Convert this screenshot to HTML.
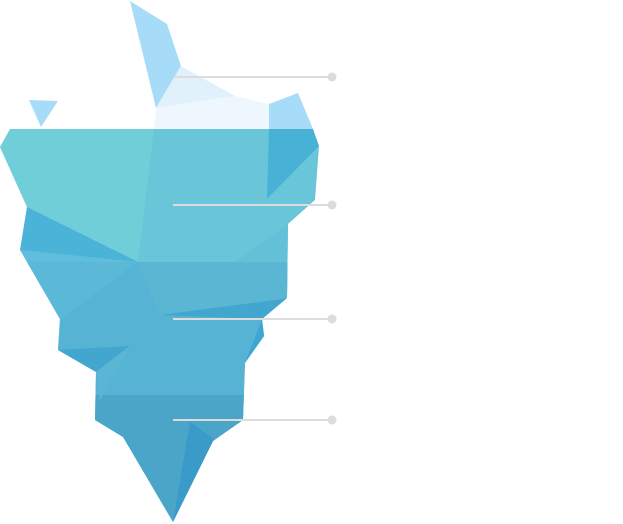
<!DOCTYPE html><html><head><style>body{margin:0;background:#fff}svg{display:block}</style></head><body>
<svg width="623" height="524" viewBox="0 0 623 524" xmlns="http://www.w3.org/2000/svg">
<polygon points="130,1 167,24 181,66 156,108" fill="#a6dcf7"/>
<polygon points="181,66 235,96 156,108" fill="#e1f1fc"/>
<polygon points="156,108 235,96 269,104 269,129 154,129" fill="#eef7fd"/>
<polygon points="269,104 298,93 313,129 269,129" fill="#a6dcf7"/>
<polygon points="29,100 58,101 41,127" fill="#a6dcf7"/>
<polygon points="10,129 313,129 319,146 315,200 288,224 287,298 262,319 264,336 245,363 243,420 213,441 173,522 123,437 95,420 96,372 58,350 60,319 27,262 20,250 27,207 0,147" fill="#69c6d8"/>
<clipPath id="c"><polygon points="10,129 313,129 319,146 315,200 288,224 287,298 262,319 264,336 245,363 243,420 213,441 173,522 123,437 95,420 96,372 58,350 60,319 27,262 20,250 27,207 0,147"/></clipPath>
<g clip-path="url(#c)">
<rect x="0" y="262" width="330" height="140" fill="#57b3d4"/>
<polygon points="138,262 288,262 288,224 235,262" fill="#63c0d8"/>
<polygon points="138,262 160,315 290,298 290,262 235,262" fill="#5bb6d4"/>
<polygon points="20,262 138,262 60,320" fill="#5bb8d6"/>
<rect x="0" y="395" width="330" height="130" fill="#4aa5c9"/>
<polygon points="10,129 154,129 138,262 27,207 0,147" fill="#70ced9"/>
<polygon points="269,129 313,129 319,146 267,199" fill="#48b2d6"/>
<polygon points="27,207 138,262 20,250" fill="#4ab3d7"/>
<polygon points="20,250 138,262 27,262" fill="#5fbedb"/>
<polygon points="160,315 290,298 262,319" fill="#42a6cf"/>
<polygon points="262,319 270,320 264,336 245,363" fill="#3fa5d3"/>
<polygon points="58,350 130,346 96,372" fill="#42a6cf"/>
<polygon points="96,372 130,346 100,400" fill="#5ab6d4"/>
<polygon points="190,422 215,440 173,522" fill="#3a9bc8"/>
</g>
<g stroke="#dcdcdc" stroke-width="2">
<line x1="175" y1="77" x2="332" y2="77"/><line x1="173" y1="205" x2="332" y2="205"/>
<line x1="173" y1="319" x2="332" y2="319"/><line x1="173" y1="420" x2="332" y2="420"/>
</g>
<g fill="#dcdcdc"><circle cx="332" cy="77" r="4.5"/><circle cx="332" cy="205" r="4.5"/><circle cx="332" cy="319" r="4.5"/><circle cx="332" cy="420" r="4.5"/></g>
</svg></body></html>
